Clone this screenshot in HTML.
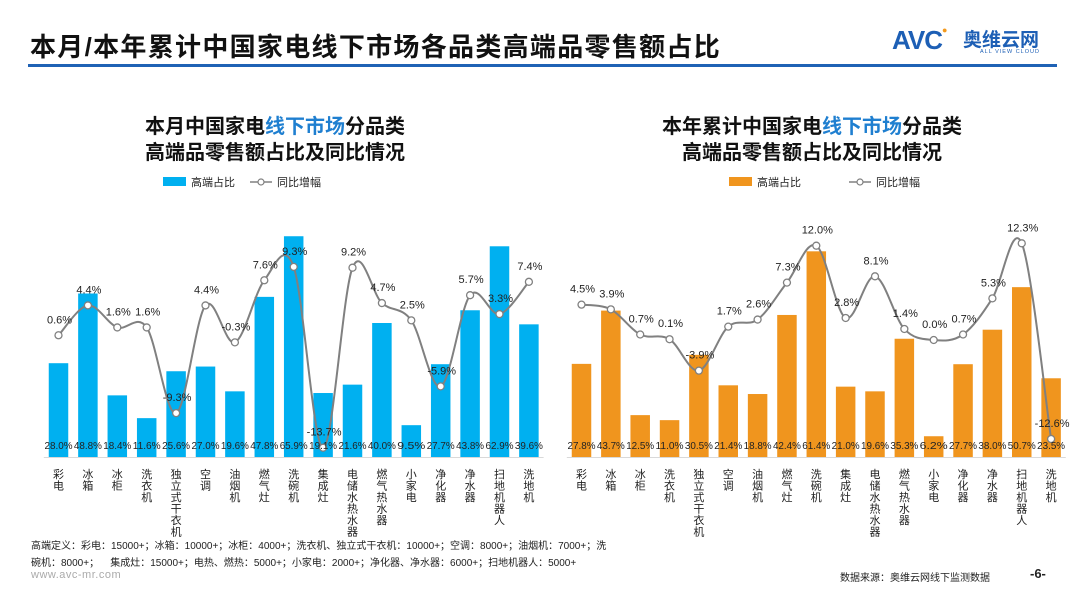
<!DOCTYPE html>
<html><head><meta charset="utf-8">
<style>
body{margin:0;background:#fff;}
#wrap{position:relative;width:1080px;height:608px;overflow:hidden;background:#fff;font-family:"Liberation Sans","Noto Sans CJK SC",sans-serif;}
.abs{position:absolute;}
</style></head>
<body>
<div id="wrap">
<div class="abs" style="left:30px;top:27px;font-size:26px;font-weight:bold;color:#111;letter-spacing:1.3px;">本月/本年累计中国家电线下市场各品类高端品零售额占比</div>
<div class="abs" style="left:28px;top:64px;width:1029px;height:3px;background:#1f62b5;"></div>
<div class="abs" style="left:892px;top:25px;font-size:26px;font-weight:bold;color:#1d5fb5;letter-spacing:-1px;">AVC<span style="color:#f39a1e;font-size:9px;vertical-align:top;">●</span></div>
<div class="abs" style="left:963px;top:25px;font-size:19px;font-weight:bold;color:#1d5fb5;">奥维云网</div>
<div class="abs" style="left:980px;top:49px;font-size:5.5px;color:#1d5fb5;letter-spacing:1px;">ALL VIEW CLOUD</div>

<div class="abs" style="left:75px;width:400px;top:114px;text-align:center;font-size:20px;font-weight:bold;line-height:26px;color:#111;">本月中国家电<span style="color:#1f7fd0">线下市场</span>分品类<br>高端品零售额占比及同比情况</div>
<div class="abs" style="left:612px;width:400px;top:114px;text-align:center;font-size:20px;font-weight:bold;line-height:26px;color:#111;">本年累计中国家电<span style="color:#1f7fd0">线下市场</span>分品类<br>高端品零售额占比及同比情况</div>

<svg class="abs" style="left:0;top:0" width="1080" height="608" id="svg"></svg>

<div class="abs" style="left:31px;top:538px;font-size:10px;line-height:17px;color:#222;">高端定义：彩电：15000+；冰箱：10000+；冰柜：4000+；洗衣机、独立式干衣机：10000+；空调：8000+；油烟机：7000+；洗<br>碗机：8000+；&nbsp;&nbsp;&nbsp;&nbsp;集成灶：15000+；电热、燃热：5000+；小家电：2000+；净化器、净水器：6000+；扫地机器人：5000+</div>
<div class="abs" style="left:31px;top:569px;font-size:11px;color:#aaa;letter-spacing:0.5px;">www.avc-mr.com</div>
<div class="abs" style="left:840px;top:569px;font-size:10px;color:#222;">数据来源：奥维云网线下监测数据</div>
<div class="abs" style="left:1030px;top:566px;font-size:13px;color:#222;font-weight:bold;">-6-</div>
</div>
<script>
const categories=["彩电","冰箱","冰柜","洗衣机","独立式干衣机","空调","油烟机","燃气灶","洗碗机","集成灶","电储水热水器","燃气热水器","小家电","净化器","净水器","扫地机器人","洗地机"];
const leftShare=[28.0,48.8,18.4,11.6,25.6,27.0,19.6,47.8,65.9,19.1,21.6,40.0,9.5,27.7,43.8,62.9,39.6];
const leftGrowth=[0.6,4.4,1.6,1.6,-9.3,4.4,-0.3,7.6,9.3,-13.7,9.2,4.7,2.5,-5.9,5.7,3.3,7.4];
const rightShare=[27.8,43.7,12.5,11.0,30.5,21.4,18.8,42.4,61.4,21.0,19.6,35.3,6.2,27.7,38.0,50.7,23.5];
const rightGrowth=[4.5,3.9,0.7,0.1,-3.9,1.7,2.6,7.3,12.0,2.8,8.1,1.4,0.0,0.7,5.3,12.3,-12.6];
const legendBar="高端占比", legendLine="同比增幅";

const NS="http://www.w3.org/2000/svg";
const svg=document.getElementById('svg');
function mk(t,a){const e=document.createElementNS(NS,t);for(const k in a)e.setAttribute(k,a[k]);svg.appendChild(e);return e;}

function drawChart(side,x0,step,share,growth,color,legX){
  const base=457, barPx=3.35, zeroY=340, linePx=7.86, bw=19.5;
  const xs=i=>x0+i*step;
  const yb=v=>base-v*barPx;
  const yl=v=>zeroY-v*linePx;
  let r=mk('rect',{x:legX,y:177,width:23,height:9,fill:color});
  
  
  let t=mk('text',{x:legX+28,y:186,'font-size':11,fill:'#222'});t.textContent=legendBar;
  
  
  let lx=legX+(side==='left'?87:120);
  let ll=mk('line',{x1:lx,y1:182,x2:lx+22,y2:182,stroke:'#808080','stroke-width':1.5});
  
  
  mk('circle',{cx:lx+11,cy:182,r:3,fill:'#fff',stroke:'#808080','stroke-width':1.2});
  t=mk('text',{x:lx+27,y:186,'font-size':11,fill:'#222'});t.textContent=legendLine;
  
  
  let ax=mk('line',{x1:x0-step/2,y1:base+0.5,x2:x0+(share.length-0.5)*step,y2:base+0.5,stroke:'#d9d9d9','stroke-width':1});
  
  
  share.forEach((v,i)=>{
    const b=mk('rect',{x:xs(i)-bw/2,y:yb(v),width:bw,height:base-yb(v),fill:color});
    
    
  });
  const pts=growth.map((v,i)=>[xs(i),yl(v)]);
  let d='M'+pts[0][0]+','+pts[0][1];
  for(let i=0;i<pts.length-1;i++){
    const p0=pts[Math.max(i-1,0)],p1=pts[i],p2=pts[i+1],p3=pts[Math.min(i+2,pts.length-1)];
    const c1=[p1[0]+(p2[0]-p0[0])/6,p1[1]+(p2[1]-p0[1])/6];
    const c2=[p2[0]-(p3[0]-p1[0])/6,p2[1]-(p3[1]-p1[1])/6];
    d+=` C${c1[0]},${c1[1]} ${c2[0]},${c2[1]} ${p2[0]},${p2[1]}`;
  }
  const path=mk('path',{d:d,fill:'none',stroke:'#808080','stroke-width':2});
  
  
  growth.forEach((v,i)=>{
    const c=mk('circle',{cx:xs(i),cy:yl(v),r:3.5,fill:'#fff',stroke:'#808080','stroke-width':1.3});
    
    
    const lt=mk('text',{x:xs(i)+1,y:yl(v)-12,'font-size':11,fill:'#222','text-anchor':'middle'});
    lt.textContent=v.toFixed(1)+'%';
    
    
  });
  share.forEach((v,i)=>{
    const lt=mk('text',{x:xs(i),y:449,'font-size':10.5,fill:'#222','text-anchor':'middle',textLength:28,lengthAdjust:'spacingAndGlyphs'});
    lt.textContent=v.toFixed(1)+'%';
    
    
  });
  categories.forEach((c,i)=>{
    [...c].forEach((ch,j)=>{
      const ct=mk('text',{x:xs(i),y:478+j*11.5,'font-size':11,fill:'#222','text-anchor':'middle'});
      ct.textContent=ch;
      
      
    });
  });
}
drawChart('left',58.5,29.4,leftShare,leftGrowth,'#00B0F0',163);
drawChart('right',581.5,29.35,rightShare,rightGrowth,'#F0951E',729);
</script>
</body></html>
